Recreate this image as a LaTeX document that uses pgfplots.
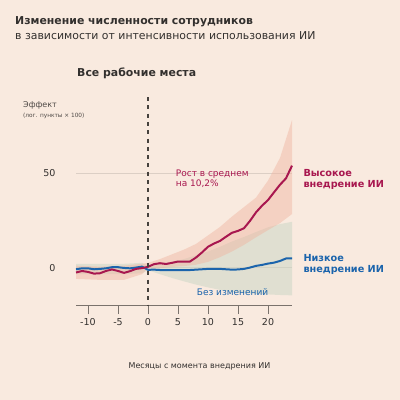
\documentclass[border=0pt]{standalone}
\usepackage{pgfplots}
\pgfplotsset{compat=1.18}
\usepackage{fontspec}
\setmainfont{DejaVu Sans}
\definecolor{bg}{HTML}{F9EADF}
\definecolor{txt}{HTML}{33302E}
\definecolor{subtxt}{HTML}{4D4845}
\definecolor{hi}{HTML}{A8174F}
\definecolor{lo}{HTML}{1B64AC}
\definecolor{hiband}{HTML}{F0B4A0}
\definecolor{loband}{HTML}{C9D6C4}
\definecolor{axc}{HTML}{7A726C}
\definecolor{gridc}{HTML}{DCCFC5}
\definecolor{dashc}{HTML}{46413D}
\begin{document}
\begin{tikzpicture}[x=1bp,y=-1bp]
\fill[bg] (0,0) rectangle (400,400);
\node[anchor=base west,inner sep=0,text=txt,font=\fontsize{10.9bp}{12bp}\selectfont\bfseries] at (15,24) {Изменение численности сотрудников};
\node[anchor=base west,inner sep=0,text=txt,font=\fontsize{10.9bp}{12bp}\selectfont] at (15,39) {в зависимости от интенсивности использования ИИ};
\node[anchor=base west,inner sep=0,text=txt,font=\fontsize{10.9bp}{12bp}\selectfont\bfseries] at (77,76.7) {Все рабочие места};
\node[anchor=base west,inner sep=0,text=subtxt,font=\fontsize{8bp}{9bp}\selectfont] at (23,107.7) {Эффект};
\node[anchor=base west,inner sep=0,text=subtxt,font=\fontsize{5.8bp}{7bp}\selectfont] at (23,117.3) {(лог. пункты × 100)};
\begin{axis}[
  at={(76bp,-305bp)}, anchor=south west,
  width=216bp, height=208bp, scale only axis,
  xmin=-12, xmax=24, ymin=-19.8, ymax=90.2,
  clip=false,
  axis x line*=bottom, axis y line*=left,
  x axis line style={-,draw=axc,line width=0.8pt},
  y axis line style={draw=none},
  xtick={-10,-5,0,5,10,15,20},
  xticklabels={-10,-5,0,5,10,15,20},
  ytick={0,50},
  yticklabels={0,50},
  tick align=outside,
  major tick length=9bp,
  xtick style={draw=axc,line width=0.8pt},
  ytick style={draw=none},
  ymajorgrids,
  major grid style={draw=gridc,line width=0.6pt},
  tick label style={font=\fontsize{9.5bp}{11bp}\selectfont,text=txt},
  yticklabel style={xshift=-8bp},
  xticklabel style={yshift=-1bp},
  /pgf/number format/assume math mode=true,
]
% bands
\addplot[draw=none,fill=loband,fill opacity=0.5] coordinates {
(-12,2.0) (-8,2.0) (-4,2.0) (-1,2.5) (0,0.9) (2,1.8) (4,3.0) (6,4.5) (8,6.5) (10,8.5) (12,11) (14,13.8) (16,16.2) (18,18.8) (20,21.3) (22,23) (24,24.2)
(24,-14.7) (22,-14.5) (20,-14.2) (18,-13.9) (16,-13.5) (14,-12.8) (12,-11.8) (10,-10.5) (8,-9) (6,-7.3) (4,-5.5) (2,-3.5) (0,-1.4) (-1,-3.0) (-4,-3.5) (-8,-3.5) (-12,-3.5)
} -- cycle;
\addplot[draw=none,fill=hiband,fill opacity=0.45] coordinates {
(-12,1.0) (-8,0.5) (-4,1.0) (-1,2.0) (0,2.5) (2,4.5) (4,7.0) (6,9.5) (8,12.5) (10,17) (12,21.5) (14,27) (16,32) (18,37) (20,46) (22,58) (24,78)
(24,28.3) (22,23.5) (20,19.8) (18,16) (16,12) (14,8.5) (12,5.5) (10,3) (8,1.5) (6,0.8) (4,0.3) (2,-0.3) (0,-0.5) (-1,-3.5) (-4,-6.5) (-8,-6.5) (-12,-6.0)
} -- cycle;
% lines
\addplot[lo,line width=2pt] coordinates {
(-12,-0.9) (-11,-0.4) (-10,-0.4) (-9,-0.9) (-8,-0.7) (-7,-0.4) (-6,0.2) (-5,0.2) (-4,-0.2) (-3,-0.4) (-2,0) (-1,0.5) (0,-1.2) (1,-1.1) (2,-1.3) (3,-1.4) (4,-1.4) (5,-1.4) (6,-1.4) (7,-1.3) (8,-1.1) (9,-0.9) (10,-0.7) (11,-0.7) (12,-0.7) (13,-0.9) (14,-1.1) (15,-1.0) (16,-0.7) (17,0) (18,0.9) (19,1.4) (20,2.1) (21,2.6) (22,3.5) (23,4.8) (24,4.8)
};
\addplot[hi,line width=2pt] coordinates {
(-12,-2.6) (-11,-1.8) (-10,-2.3) (-9,-3.2) (-8,-3.0) (-7,-1.8) (-6,-1.0) (-5,-1.8) (-4,-2.8) (-3,-1.9) (-2,-0.7) (-1,-0.3) (0,0.4) (1,1.8) (2,2.3) (3,1.9) (4,2.5) (5,3.2) (6,3.2) (7,3.2) (8,5.3) (9,8.0) (10,11.0) (11,12.7) (12,14.1) (13,16.3) (14,18.4) (15,19.4) (16,20.8) (17,24.7) (18,29.2) (19,32.7) (20,35.7) (21,39.8) (22,43.8) (23,47.2) (24,53.9)
};
\addplot[dashc,line width=1.2pt,dash pattern=on 4bp off 4.3bp] coordinates {(0,90.2) (0,-19.8)};
\end{axis}
\node[anchor=base west,inner sep=0,text=hi,font=\fontsize{9bp}{10bp}\selectfont,align=left] at (175.7,176) {Рост в среднем};
\node[anchor=base west,inner sep=0,text=hi,font=\fontsize{9bp}{10bp}\selectfont] at (175.7,186) {на 10,2\%};
\node[anchor=base west,inner sep=0,text=lo,font=\fontsize{9bp}{10bp}\selectfont] at (196.7,295) {Без изменений};
\node[anchor=base west,inner sep=0,text=hi,font=\fontsize{9.7bp}{11bp}\selectfont\bfseries] at (303.3,176.7) {Высокое};
\node[anchor=base west,inner sep=0,text=hi,font=\fontsize{9.7bp}{11bp}\selectfont\bfseries] at (303.3,187.5) {внедрение ИИ};
\node[anchor=base west,inner sep=0,text=lo,font=\fontsize{9.7bp}{11bp}\selectfont\bfseries] at (303.3,261.7) {Низкое};
\node[anchor=base west,inner sep=0,text=lo,font=\fontsize{9.7bp}{11bp}\selectfont\bfseries] at (303.3,272.7) {внедрение ИИ};
\node[anchor=center,inner sep=0,text=txt,font=\fontsize{8bp}{9bp}\selectfont] at (199.5,366) {Месяцы с момента внедрения ИИ};
\end{tikzpicture}
\end{document}
